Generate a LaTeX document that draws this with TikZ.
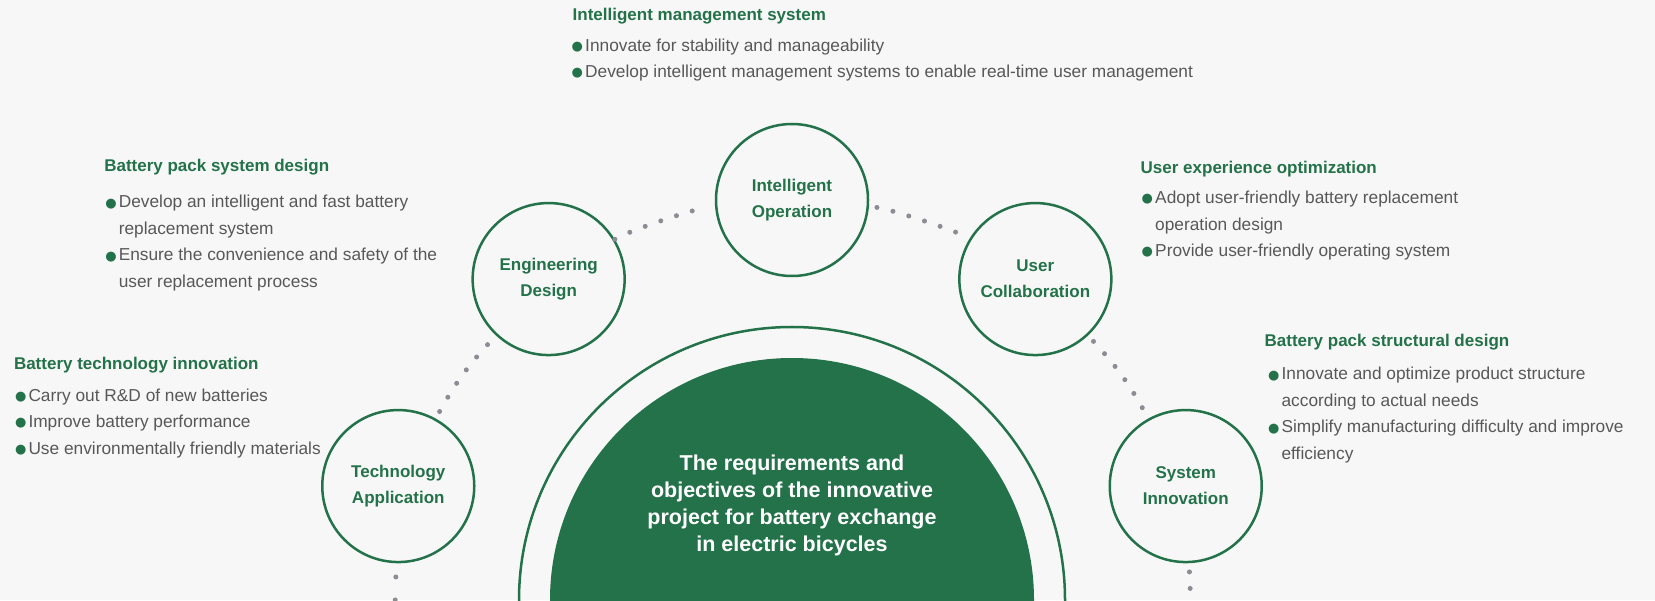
\documentclass[tikz,border=0pt]{standalone}
\usepackage{fontspec}
\setmainfont{Liberation Sans}
\newfontfamily\markfont{DejaVu Sans}
\usetikzlibrary{positioning}
\usepackage{xcolor}

\definecolor{leaf}{RGB}{36,114,74}
\definecolor{ink}{RGB}{88,88,88}
\definecolor{pebble}{RGB}{140,140,148}
\definecolor{paper}{RGB}{247,247,247}

\newcommand{\dotmark}{\makebox[13.5pt][l]{\raisebox{0.8pt}{\textcolor{leaf}{\markfont\fontsize{13}{13}\selectfont ●}}}}
\newcommand{\wrapin}{\hspace*{13.5pt}}

\begin{document}
\begin{tikzpicture}[x=1pt,y=1pt,
      ring/.style={draw=leaf,circle,line width=2.5pt,minimum size=152pt,
                   align=center,text=leaf,
                   font=\bfseries\fontsize{17}{26}\selectfont},
      head/.style={anchor=north west,inner sep=0pt,outer sep=0pt,text=leaf,
                   font=\bfseries\fontsize{17}{20}\selectfont},
      list/.style={anchor=north west,inner sep=0pt,outer sep=0pt,align=left,
                   text=ink,font=\fontsize{17.3}{26.5}\selectfont},
      trail/.style={pebble,line width=5pt,line cap=round,
                    dash pattern=on 0pt off 16.5pt,
                    shorten <=8pt,shorten >=8pt},
      upper/.style={bend left=13,looseness=0.45},
      lower/.style={bend left=7}]
    \useasboundingbox (0,0) rectangle (1655,600);
    \fill[paper] (0,0) rectangle (1655,600);

    % central arch
    \draw[leaf,line width=2.5pt] (519,-5) -- (519,0)
      arc[start angle=180,end angle=0,radius=273] -- (1065,-5);
    \fill[leaf] (550,-5) -- (550,0) arc[start angle=180,end angle=0,radius=242]
      -- (1034,-5) -- cycle;
    \node[align=center,text=white,font=\bfseries\fontsize{21.5}{27}\selectfont]
      (core) at (792,94.5) {The requirements and\\objectives of the innovative\\
      project for battery exchange\\in electric bicycles};

    % ring of circles
    \coordinate (hub) at (792,-14);
    \node[ring] (tech)  at ([shift={(162:414)}]hub) {Technology\\Application};
    \node[ring] (eng)   at ([shift={(126:414)}]hub) {Engineering\\Design};
    \node[ring] (intel) at ([shift={(90:414)}]hub)  {Intelligent\\Operation};
    \node[ring] (user)  at ([shift={(54:414)}]hub)  {User\\Collaboration};
    \node[ring] (sys)   at ([shift={(18:414)}]hub)  {System\\Innovation};

    \coordinate (techfoot) at (395,-8);
    \coordinate (sysfoot) at (1191,-8);
    \draw[trail] (tech) to[lower] (eng);
    \draw[trail,shorten <=0pt] (eng) to[upper] (intel);
    \draw[trail] (intel) to[upper] (user);
    \draw[trail] (user) to[lower] (sys);
    \draw[trail,shorten <=0pt,dash pattern=on 0pt off 23pt,dash phase=9.3pt]
      (tech) -- (techfoot);
    \draw[trail,shorten <=0pt,dash phase=7.8pt] (sys) -- (sysfoot);

    % text blocks
    \node[head] (intelhead) at (572.7,592) {Intelligent management system};
    \node[list,below=14.8pt of intelhead.south west,anchor=north west,xshift=-1pt]
      (intellist) {\dotmark Innovate for stability and manageability\\
      \dotmark Develop intelligent management systems to enable real-time user management};

    \node[head] (enghead) at (104.3,441.3) {Battery pack system design};
    \node[list,below=20.7pt of enghead.south west,anchor=north west,xshift=1pt]
      (englist) {\dotmark Develop an intelligent and fast battery\\
      \wrapin replacement system\\
      \dotmark Ensure the convenience and safety of the\\
      \wrapin user replacement process};

    \node[head] (techhead) at (14,243) {Battery technology innovation};
    \node[list,below=15.8pt of techhead.south west,anchor=north west,xshift=1pt]
      (techlist) {\dotmark Carry out R\&D of new batteries\\
      \dotmark Improve battery performance\\
      \dotmark Use environmentally friendly materials};

    \node[head] (userhead) at (1140.7,438.7) {User experience optimization};
    \node[list,below=14.1pt of userhead.south west,anchor=north west,xshift=1pt]
      (userlist) {\dotmark Adopt user-friendly battery replacement\\
      \wrapin operation design\\
      \dotmark Provide user-friendly operating system};

    \node[head] (syshead) at (1264.6,265.7) {Battery pack structural design};
    \node[list,below=17.1pt of syshead.south west,anchor=north west,xshift=3.5pt]
      (syslist) {\dotmark Innovate and optimize product structure\\
      \wrapin according to actual needs\\
      \dotmark Simplify manufacturing difficulty and improve\\
      \wrapin efficiency};
  \end{tikzpicture}
\end{document}
